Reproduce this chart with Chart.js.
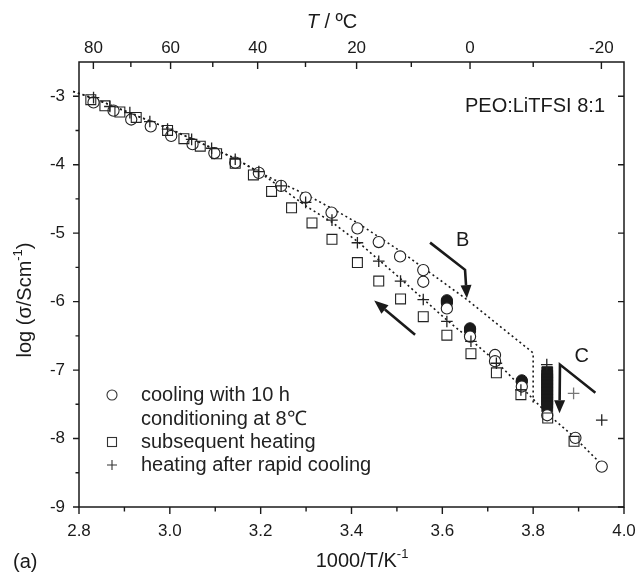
<!DOCTYPE html>
<html>
<head>
<meta charset="utf-8">
<script src="https://cdn.jsdelivr.net/npm/chart.js@4.4.1/dist/chart.umd.min.js"></script>
<style>
  html, body { margin: 0; padding: 0; background: #fff; }
  #wrap { width: 641px; height: 574px; }
</style>
</head>
<body>
<div id="wrap"><canvas id="c" width="641" height="574"></canvas></div>
<script>
// ---- tick labels / axes ----
const xTicks = [2.8, 3.0, 3.2, 3.4, 3.6, 3.8, 4.0];
const xMinor = [2.9, 3.1, 3.3, 3.5, 3.7, 3.9];
const yTicks = [-9, -8, -7, -6, -5, -4, -3];
const yMinor = [-8.5, -7.5, -6.5, -5.5, -4.5, -3.5];
const topTicksC = [80, 60, 40, 20, 0, -20];
const topMinorC = [70, 50, 30, 10, -10];

// ---- data series (x = 1000/T, y = log sigma) ----
const cooling = [
  [2.832,-3.09],[2.876,-3.21],[2.915,-3.34],[2.958,-3.44],[3.003,-3.58],[3.050,-3.70],
  [3.098,-3.83],[3.144,-3.97],[3.196,-4.12],[3.245,-4.31],[3.299,-4.48],[3.356,-4.70],
  [3.413,-4.93],[3.460,-5.13],[3.507,-5.34],[3.558,-5.54],[3.558,-5.71],[3.610,-6.10],
  [3.661,-6.51],[3.716,-6.78],[3.716,-6.87],[3.775,-7.24],[3.831,-7.66],[3.893,-7.99],
  [3.951,-8.41]
];
const conditioning = [
  [3.610,-5.98],[3.610,-6.00],[3.610,-6.02],
  [3.661,-6.39],[3.661,-6.41],[3.661,-6.43],
  [3.775,-7.15],[3.775,-7.17]
];
const conditioningBar = [
  [3.831,-7.03],[3.831,-7.08],[3.831,-7.13],[3.831,-7.18],[3.831,-7.23],[3.831,-7.28],
  [3.831,-7.33],[3.831,-7.38],[3.831,-7.43],[3.831,-7.48],[3.831,-7.53]
];
const heating = [
  [2.826,-3.05],[2.857,-3.14],[2.890,-3.23],[2.926,-3.31],[2.995,-3.50],[3.031,-3.62],
  [3.067,-3.73],[3.103,-3.84],[3.144,-3.98],[3.184,-4.15],[3.224,-4.39],[3.268,-4.63],
  [3.313,-4.85],[3.357,-5.09],[3.413,-5.43],[3.460,-5.70],[3.508,-5.96],[3.558,-6.22],
  [3.610,-6.49],[3.663,-6.76],[3.719,-7.04],[3.773,-7.36],[3.832,-7.70],[3.890,-8.04]
];
const rapid = [
  [2.832,-3.02],[2.868,-3.15],[2.912,-3.24],[2.956,-3.37],[2.995,-3.48],[3.048,-3.63],
  [3.092,-3.76],[3.144,-3.92],[3.196,-4.10],[3.245,-4.31],[3.299,-4.55],[3.357,-4.81],
  [3.413,-5.14],[3.460,-5.41],[3.508,-5.70],[3.558,-5.97],[3.610,-6.29],[3.663,-6.58],
  [3.719,-6.90],[3.773,-7.29],[3.830,-6.92],[3.889,-7.34],[3.951,-7.73]
];
const fitUpper = [
  [2.787,-2.93],[2.832,-3.03],[3.004,-3.49],[3.144,-3.91],[3.199,-4.12],[3.246,-4.27],
  [3.301,-4.44],[3.357,-4.64],[3.413,-4.85],[3.507,-5.26],[3.654,-5.97],[3.800,-6.75],
  [3.800,-7.48]
];
const fitLower = [
  [2.787,-2.93],[2.832,-3.03],[3.004,-3.49],[3.144,-3.91],[3.199,-4.12],[3.246,-4.34],
  [3.301,-4.61],[3.357,-4.84],[3.413,-5.12],[3.507,-5.66],[3.610,-6.27],[3.663,-6.56],
  [3.719,-6.88],[3.773,-7.24],[3.830,-7.63],[3.889,-7.97],[3.951,-8.38]
];
// annotation arrows (data coordinates)
const arrowB = [[3.573,-5.138],[3.650,-5.536],[3.654,-5.95]];
const arrowHeat = [[3.540,-6.485],[3.450,-5.985]];
const arrowC = [[3.937,-7.33],[3.859,-6.92],[3.858,-7.63]];
const labelB = [3.645,-5.10];
const labelC = [3.907,-6.80];

const toXY = a => a.map(p => ({x: p[0], y: p[1]}));
const FONT = '"Liberation Sans", Arial, Helvetica, sans-serif';
const INK = '#1a1a1a';

function drawArrow(ctx, pts, lw, headLen, headW) {
  ctx.save();
  ctx.strokeStyle = INK; ctx.fillStyle = INK; ctx.lineWidth = lw;
  const n = pts.length;
  const [tx, ty] = pts[n-1], [px, py] = pts[n-2];
  const ang = Math.atan2(ty - py, tx - px);
  const bx = tx - Math.cos(ang) * headLen, by = ty - Math.sin(ang) * headLen;
  ctx.beginPath();
  ctx.moveTo(pts[0][0], pts[0][1]);
  for (let i = 1; i < n - 1; i++) ctx.lineTo(pts[i][0], pts[i][1]);
  ctx.lineTo(bx, by);
  ctx.stroke();
  ctx.beginPath();
  ctx.moveTo(tx, ty);
  ctx.lineTo(bx + Math.sin(ang) * headW, by - Math.cos(ang) * headW);
  ctx.lineTo(bx - Math.sin(ang) * headW, by + Math.cos(ang) * headW);
  ctx.closePath();
  ctx.fill();
  ctx.restore();
}

function textWithSup(ctx, parts, x, y, align) {
  // parts: [{t, sup, italic}]
  const base = 20, supSize = 13;
  let total = 0;
  parts.forEach(p => {
    ctx.font = (p.italic ? 'italic ' : '') + (p.sup ? supSize : base) + 'px ' + FONT;
    p.w = ctx.measureText(p.t).width; total += p.w;
  });
  let cx = align === 'center' ? x - total / 2 : x;
  parts.forEach(p => {
    ctx.font = (p.italic ? 'italic ' : '') + (p.sup ? supSize : base) + 'px ' + FONT;
    ctx.textAlign = 'left';
    ctx.textBaseline = 'middle';
    ctx.fillText(p.t, cx, p.sup ? y - 7 : y);
    cx += p.w;
  });
}

const deco = {
  id: 'deco',
  afterDatasetsDraw(chart) {
    const {ctx, chartArea: a, scales: {x, y}} = chart;
    const P = p => [x.getPixelForValue(p[0]), y.getPixelForValue(p[1])];
    const topX = c => x.getPixelForValue(1000 / (c + 273.15));

    // arrows
    drawArrow(ctx, arrowB.map(P), 2.6, 13, 5.5);
    drawArrow(ctx, arrowHeat.map(P), 2.6, 14, 5.5);
    drawArrow(ctx, arrowC.map(P), 2.6, 13, 5.5);

    ctx.save();
    ctx.fillStyle = INK;
    ctx.font = '20px ' + FONT;
    ctx.textAlign = 'center'; ctx.textBaseline = 'middle';
    let [lx, ly] = P(labelB); ctx.fillText('B', lx, ly);
    [lx, ly] = P(labelC); ctx.fillText('C', lx, ly);
    ctx.textAlign = 'right';
    ctx.fillText('PEO:LiTFSI 8:1', a.right - 19, a.top + 44);
    ctx.restore();

    // frame
    ctx.save();
    ctx.strokeStyle = INK; ctx.lineWidth = 1.5;
    ctx.strokeRect(a.left, a.top, a.right - a.left, a.bottom - a.top);
    ctx.lineWidth = 1.4;
    ctx.beginPath();
    xTicks.forEach(v => { const px = x.getPixelForValue(v); ctx.moveTo(px, a.bottom); ctx.lineTo(px, a.bottom + 7); });
    xMinor.forEach(v => { const px = x.getPixelForValue(v); ctx.moveTo(px, a.bottom); ctx.lineTo(px, a.bottom + 4.5); });
    yTicks.forEach(v => { const py = y.getPixelForValue(v); ctx.moveTo(a.left - 6, py); ctx.lineTo(a.left, py);
                                                           ctx.moveTo(a.right - 6, py); ctx.lineTo(a.right, py); });
    yMinor.forEach(v => { const py = y.getPixelForValue(v); ctx.moveTo(a.left - 3.5, py); ctx.lineTo(a.left, py); });
    topTicksC.forEach(c => { const px = topX(c); ctx.moveTo(px, a.top); ctx.lineTo(px, a.top + 7); });
    topMinorC.forEach(c => { const px = topX(c); ctx.moveTo(px, a.top); ctx.lineTo(px, a.top + 5); });
    ctx.stroke();

    // tick labels
    ctx.fillStyle = INK;
    ctx.font = '17px ' + FONT;
    ctx.textAlign = 'center'; ctx.textBaseline = 'middle';
    xTicks.forEach(v => ctx.fillText(v.toFixed(1), x.getPixelForValue(v), a.bottom + 24));
    topTicksC.forEach(c => ctx.fillText(String(c), topX(c), a.top - 14));
    ctx.textAlign = 'right';
    yTicks.forEach(v => ctx.fillText(String(v), a.left - 14, y.getPixelForValue(v)));

    // axis titles
    textWithSup(ctx, [{t: 'T', italic: true}, {t: ' / ºC'}], 332, 22, 'center');
    textWithSup(ctx, [{t: '1000/T/K'}, {t: '-1', sup: true}], 362, 561, 'center');
    ctx.font = '20px ' + FONT; ctx.textAlign = 'left';
    ctx.fillText('(a)', 13, 562);
    ctx.save();
    ctx.translate(25, 300);
    ctx.rotate(-Math.PI / 2);
    textWithSup(ctx, [{t: 'log (σ/Scm'}, {t: '-1', sup: true}, {t: ')'}], 0, 0, 'center');
    ctx.restore();

    // legend
    const lgX = 112, txX = 141;
    ctx.lineWidth = 1.1; ctx.strokeStyle = '#333';
    ctx.beginPath(); ctx.arc(lgX, 395, 5, 0, Math.PI * 2); ctx.stroke();
    ctx.strokeRect(lgX - 4.5, 442 - 4.5, 9, 9);
    ctx.beginPath(); ctx.moveTo(lgX - 5, 465); ctx.lineTo(lgX + 5, 465);
    ctx.moveTo(lgX, 460); ctx.lineTo(lgX, 470); ctx.stroke();
    ctx.font = '20px ' + FONT; ctx.fillStyle = '#222';
    ctx.textAlign = 'left'; ctx.textBaseline = 'middle';
    ctx.fillText('cooling with 10 h', txX, 395);
    ctx.fillText('conditioning at 8℃', txX, 419);
    ctx.fillText('subsequent heating', txX, 442);
    ctx.fillText('heating after rapid cooling', txX, 465);
    ctx.restore();
  }
};

const lineStyle = {
  showLine: true, pointRadius: 0, borderColor: INK, borderWidth: 1.6,
  borderDash: [2, 3], fill: false, clip: false, order: 6
};

new Chart(document.getElementById('c'), {
  type: 'scatter',
  data: {
    datasets: [
      Object.assign({label: 'fit upper', data: toXY(fitUpper)}, lineStyle),
      Object.assign({label: 'fit lower', data: toXY(fitLower)}, lineStyle),
      {label: 'conditioning', data: toXY(conditioning), pointStyle: 'circle', pointRadius: 5.6,
       backgroundColor: INK, borderColor: INK, borderWidth: 1, order: 5},
      {label: 'conditioning bar', data: toXY(conditioningBar), pointStyle: 'rect', pointRadius: 7.6,
       backgroundColor: INK, borderColor: INK, borderWidth: 1, order: 5},
      {label: 'cooling with 10 h conditioning at 8℃', data: toXY(cooling), pointStyle: 'circle',
       pointRadius: 5.6, backgroundColor: '#ffffff', borderColor: '#222', borderWidth: 1.1, order: 4},
      {label: 'subsequent heating', data: toXY(heating), pointStyle: 'rect', pointRadius: 7,
       backgroundColor: 'rgba(0,0,0,0)', borderColor: '#222', borderWidth: 1.1, order: 3},
      {label: 'heating after rapid cooling', data: toXY(rapid), pointStyle: 'cross', pointRadius: 5.8,
       borderColor: rapid.map((p, i) => i === 21 ? '#777' : '#222'), borderWidth: 1.3, order: 2}
    ]
  },
  options: {
    responsive: false,
    animation: false,
    devicePixelRatio: 1,
    layout: {padding: {left: 79, right: 17, top: 62, bottom: 67}},
    plugins: {legend: {display: false}, tooltip: {enabled: false}},
    scales: {
      x: {type: 'linear', min: 2.8, max: 4.0, display: false},
      y: {type: 'linear', min: -9, max: -2.5, display: false}
    }
  },
  plugins: [deco]
});
</script>
</body>
</html>
